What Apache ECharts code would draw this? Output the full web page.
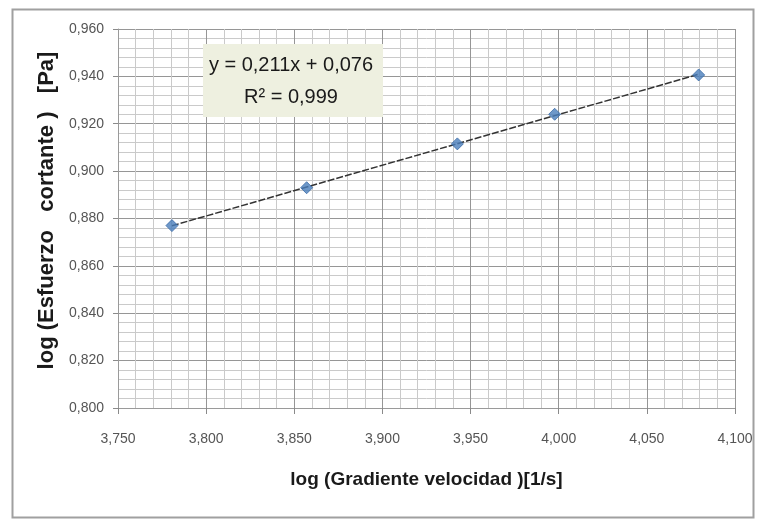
<!DOCTYPE html>
<html>
<head>
<meta charset="utf-8">
<script src="https://cdn.jsdelivr.net/npm/echarts@6/dist/echarts.min.js"></script>
<style>
html,body{margin:0;padding:0;background:#fff;}
#c{width:759px;height:519px;}
</style>
</head>
<body>
<div id="c"></div>
<script>
// Data
var xValues = [3.7806, 3.857, 3.9425, 3.9977, 4.0794];
var yValues = [0.877, 0.893, 0.9115, 0.924, 0.9406];
var xAxisTitle = 'log (Gradiente velocidad )[1/s]';
var yAxisTitle = 'log (Esfuerzo   cortante )   [Pa]';
var equationText = 'y = 0,211x + 0,076';
var r2Text = 'R² = 0,999';

// least-squares trendline over the data range
var n = xValues.length, sx = 0, sy = 0, sxx = 0, sxy = 0;
for (var i = 0; i < n; i++) { sx += xValues[i]; sy += yValues[i]; sxx += xValues[i]*xValues[i]; sxy += xValues[i]*yValues[i]; }
var slope = (n*sxy - sx*sy) / (n*sxx - sx*sx);
var intercept = (sy - slope*sx) / n;
var xmin = Math.min.apply(null, xValues), xmax = Math.max.apply(null, xValues);
var trend = [[xmin, slope*xmin + intercept], [xmax, slope*xmax + intercept]];
var points = xValues.map(function (x, i) { return [x, yValues[i]]; });

var fmt = function (v) { return v.toFixed(3).replace('.', ','); };
var font = '"Liberation Sans", "Open Sans", sans-serif';

var chart = echarts.init(document.getElementById('c'), null, {renderer: 'canvas'});
chart.setOption({
  backgroundColor: '#ffffff',
  animation: false,
  grid: {left: 118, right: 24, top: 29, bottom: 111, containLabel: false},
  xAxis: {
    type: 'value', min: 3.75, max: 4.1, interval: 0.05,
    name: xAxisTitle, nameLocation: 'middle', nameGap: 62,
    nameTextStyle: {fontFamily: font, fontWeight: 'bold', fontSize: 19, color: '#1a1a1a'},
    axisLine: {show: true, lineStyle: {color: '#9a9a9a', width: 1}},
    axisTick: {show: true, length: 6, lineStyle: {color: '#8a8a8a'}},
    axisLabel: {formatter: fmt, fontFamily: font, fontSize: 14, color: '#555', margin: 24},
    splitLine: {show: true, lineStyle: {color: '#969696', width: 1}},
    minorTick: {show: false, splitNumber: 5},
    minorSplitLine: {show: true, lineStyle: {color: '#cacaca', width: 1}}
  },
  yAxis: {
    type: 'value', min: 0.8, max: 0.96, interval: 0.02,
    name: yAxisTitle, nameLocation: 'middle', nameGap: 58, nameRotate: 90,
    nameTextStyle: {fontFamily: font, fontWeight: 'bold', fontSize: 22, color: '#1a1a1a', padding: [0, 0, 0, 16]},
    axisLine: {show: true, lineStyle: {color: '#9a9a9a', width: 1}},
    axisTick: {show: true, length: 5, lineStyle: {color: '#8a8a8a'}},
    axisLabel: {formatter: fmt, fontFamily: font, fontSize: 14, color: '#555', margin: 14},
    splitLine: {show: true, lineStyle: {color: '#969696', width: 1}},
    minorTick: {show: false, splitNumber: 5},
    minorSplitLine: {show: true, lineStyle: {color: '#cacaca', width: 1}}
  },
  graphic: [
    {type: 'rect', left: 10, top: 7, shape: {width: 741, height: 508},
     style: {fill: 'none', stroke: '#a0a0a0', lineWidth: 2}, silent: true, z: 100},
    {type: 'rect', left: 203, top: 44, shape: {width: 180, height: 73},
     style: {fill: '#eef0e0', stroke: 'none'}, z: 50},
    {type: 'text', z: 51, x: 291, y: 65,
     style: {text: equationText, textAlign: 'center', textVerticalAlign: 'middle', fill: '#1a1a1a', font: '20px ' + font}},
    {type: 'text', z: 51, x: 291, y: 97,
     style: {text: r2Text, textAlign: 'center', textVerticalAlign: 'middle', fill: '#1a1a1a', font: '20px ' + font}}
  ],
  series: [
    {type: 'line', data: trend, showSymbol: false, symbol: 'none',
     lineStyle: {color: '#333333', width: 1.5, type: [7, 2]}, z: 3, silent: true},
    {type: 'scatter', data: points, symbol: 'diamond', symbolSize: 12,
     itemStyle: {color: '#4a7ebb', borderColor: '#3b6ba8', borderWidth: 1}, z: 4}
  ]
});
</script>
</body>
</html>
